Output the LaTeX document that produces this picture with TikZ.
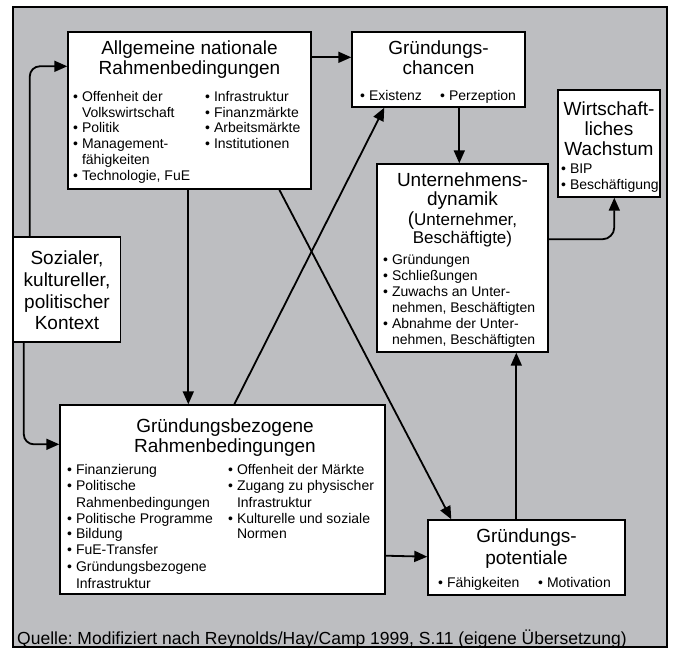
\documentclass[tikz,border=0pt]{standalone}
\usepackage{fontspec}
\setmainfont{Liberation Sans}
\usetikzlibrary{arrows.meta,calc}
\definecolor{bggray}{RGB}{189,190,193}
\newcommand{\myb}{\makebox[0.63em][l]{•}}
\newcommand{\myi}{\hspace*{0.63em}}
\frenchspacing
\begin{document}
\begin{tikzpicture}[x=1pt,y=-1pt,
  box/.style={draw=black, line width=1.4pt, fill=white, inner sep=0pt},
  conn/.style={line width=1.8pt, -{Triangle[length=13pt,width=11pt]}},
  ttl/.style={font=\fontsize{19}{20}\selectfont, inner sep=0pt, anchor=base},
  subttl/.style={font=\fontsize{17}{18}\selectfont, inner sep=0pt, anchor=base},
  itm/.style={font=\fontsize{14}{16}\selectfont, inner sep=0pt, anchor=base west},
  capt/.style={font=\fontsize{17.5}{19}\selectfont, inner sep=0pt, anchor=base west},
]
\useasboundingbox (0,0) rectangle (674,648);
\node[draw=black, line width=1.4pt, fill=bggray, minimum width=654pt, minimum height=640pt, inner sep=0pt] (frame) at (340,327) {};

% boxes
\node[box, minimum width=243pt, minimum height=157pt] (nat) at (189.5,110.5) {};
\node[box, minimum width=173pt, minimum height=75pt] (cha) at (438.5,69.5) {};
\node[box, minimum width=102pt, minimum height=107pt] (wac) at (609,143.5) {};
\node[box, minimum width=171pt, minimum height=188pt] (dyn) at (462.5,258) {};
\node[box, minimum width=107pt, minimum height=105pt] (soz) at (67,289.5) {};
\node[box, minimum width=325pt, minimum height=189pt] (bez) at (222.5,499.5) {};
\node[box, minimum width=197pt, minimum height=75pt] (pot) at (526.5,557.5) {};

% texts: Allgemeine nationale Rahmenbedingungen
\node[ttl] (nat-t1) at (189.5,54) {Allgemeine nationale};
\node[ttl] (nat-t2) at (189.5,74) {Rahmenbedingungen};
\foreach \yy/\txt [count=\i] in {101/{\myb Offenheit der},117/{\myi Volkswirtschaft},132/{\myb Politik},148/{\myb Management-},164/{\myi fähigkeiten},180/{\myb Technologie, FuE}}
  \node[itm] (nat-l\i) at (73,\yy) {\txt};
\foreach \yy/\txt [count=\i] in {101/{\myb Infrastruktur},117/{\myb Finanzmärkte},132/{\myb Arbeitsmärkte},148/{\myb Institutionen}}
  \node[itm] (nat-r\i) at (205,\yy) {\txt};

% Gruendungschancen
\node[ttl] (cha-t1) at (438.5,54) {Gründungs-};
\node[ttl] (cha-t2) at (438.5,74) {chancen};
\node[itm] (cha-b1) at (360,100) {\myb Existenz};
\node[itm] (cha-b2) at (440,100) {\myb Perzeption};

% Wirtschaftliches Wachstum
\node[ttl] (wac-t1) at (609,115) {Wirtschaft-};
\node[ttl] (wac-t2) at (609,135) {liches};
\node[ttl] (wac-t3) at (609,155) {Wachstum};
\node[itm] (wac-b1) at (561,173) {\myb BIP};
\node[itm] (wac-b2) at (561,189) {\myb Beschäftigung};

% Unternehmensdynamik
\node[ttl] (dyn-t1) at (462.5,186) {Unternehmens-};
\node[ttl] (dyn-t2) at (462.5,205) {dynamik};
\node[subttl] (dyn-t3) at (462.5,225) {\fontsize{19}{20}\selectfont(\fontsize{17}{18}\selectfont Unternehmer,};
\node[subttl] (dyn-t4) at (462.5,243) {Beschäftigte)};
\foreach \yy/\txt [count=\i] in {264/{\myb Gründungen},280/{\myb Schließungen},296/{\myb Zuwachs an Unter-},312/{\myi nehmen, Beschäftigten},328/{\myb Abnahme der Unter-},344/{\myi nehmen, Beschäftigten}}
  \node[itm] (dyn-l\i) at (383,\yy) {\txt};

% Sozialer Kontext
\node[ttl] (soz-t1) at (67,264) {Sozialer,};
\node[ttl] (soz-t2) at (67,286) {kultureller,};
\node[ttl] (soz-t3) at (67,308) {politischer};
\node[ttl] (soz-t4) at (67,329) {Kontext};

% Gruendungsbezogene Rahmenbedingungen
\node[ttl] (bez-t1) at (225,432) {Gründungsbezogene};
\node[ttl] (bez-t2) at (225,452) {Rahmenbedingungen};
\foreach \yy/\txt [count=\i] in {474/{\myb Finanzierung},490/{\myb Politische},507/{\myi Rahmenbedingungen},523/{\myb Politische Programme},538/{\myb Bildung},554/{\myb FuE-Transfer},571/{\myb Gründungsbezogene},588/{\myi Infrastruktur}}
  \node[itm] (bez-l\i) at (67,\yy) {\txt};
\foreach \yy/\txt [count=\i] in {474/{\myb Offenheit der Märkte},490/{\myb Zugang zu physischer},507/{\myi Infrastruktur},523/{\myb Kulturelle und soziale},538/{\myi Normen}}
  \node[itm] (bez-r\i) at (228,\yy) {\txt};

% Gruendungspotentiale
\node[ttl] (pot-t1) at (526.5,542) {Gründungs-};
\node[ttl] (pot-t2) at (526.5,564) {potentiale};
\node[itm] (pot-b1) at (438,587) {\myb Fähigkeiten};
\node[itm] (pot-b2) at (538,587) {\myb Motivation};

% caption
\node[capt] (quelle) at (17,644) {Quelle: Modifiziert nach Reynolds/Hay/Camp 1999, S.11 (eigene Übersetzung)};

% connectors
\coordinate (s1) at ($(soz.north west)+(17,0)$);
\draw[conn, rounded corners=10pt] (s1) |- ($(nat.north west)+(0,35)$);
\coordinate (s2) at ($(soz.south west)+(11,0)$);
\draw[conn, rounded corners=10pt] (s2) |- ($(bez.north west)+(0,40)$);
\draw[conn] ($(nat.north east)+(0,26)$) -- ($(cha.north west)+(0,26)$);
\draw[conn] ($(cha.south west)+(108,0)$) -- ($(dyn.north west)+(83,0)$);
\draw[conn, rounded corners=12pt] ($(dyn.north east)+(0,76)$) -| ($(wac.south west)+(57,0)$);
\draw[conn] ($(nat.south west)+(121,0)$) -- ($(bez.north west)+(129,0)$);
\draw[conn] ($(nat.south west)+(212,0)$) -- ($(pot.north west)+(24,0)$);
\draw[conn] ($(bez.north west)+(175,0)$) -- ($(cha.south west)+(33,0)$);
\draw[conn] ($(bez.south east)+(0,-39)$) -- ($(pot.south west)+(0,-39)$);
\draw[conn] ($(pot.north west)+(89,0)$) -- ($(dyn.south west)+(140,0)$);
\end{tikzpicture}
\end{document}
